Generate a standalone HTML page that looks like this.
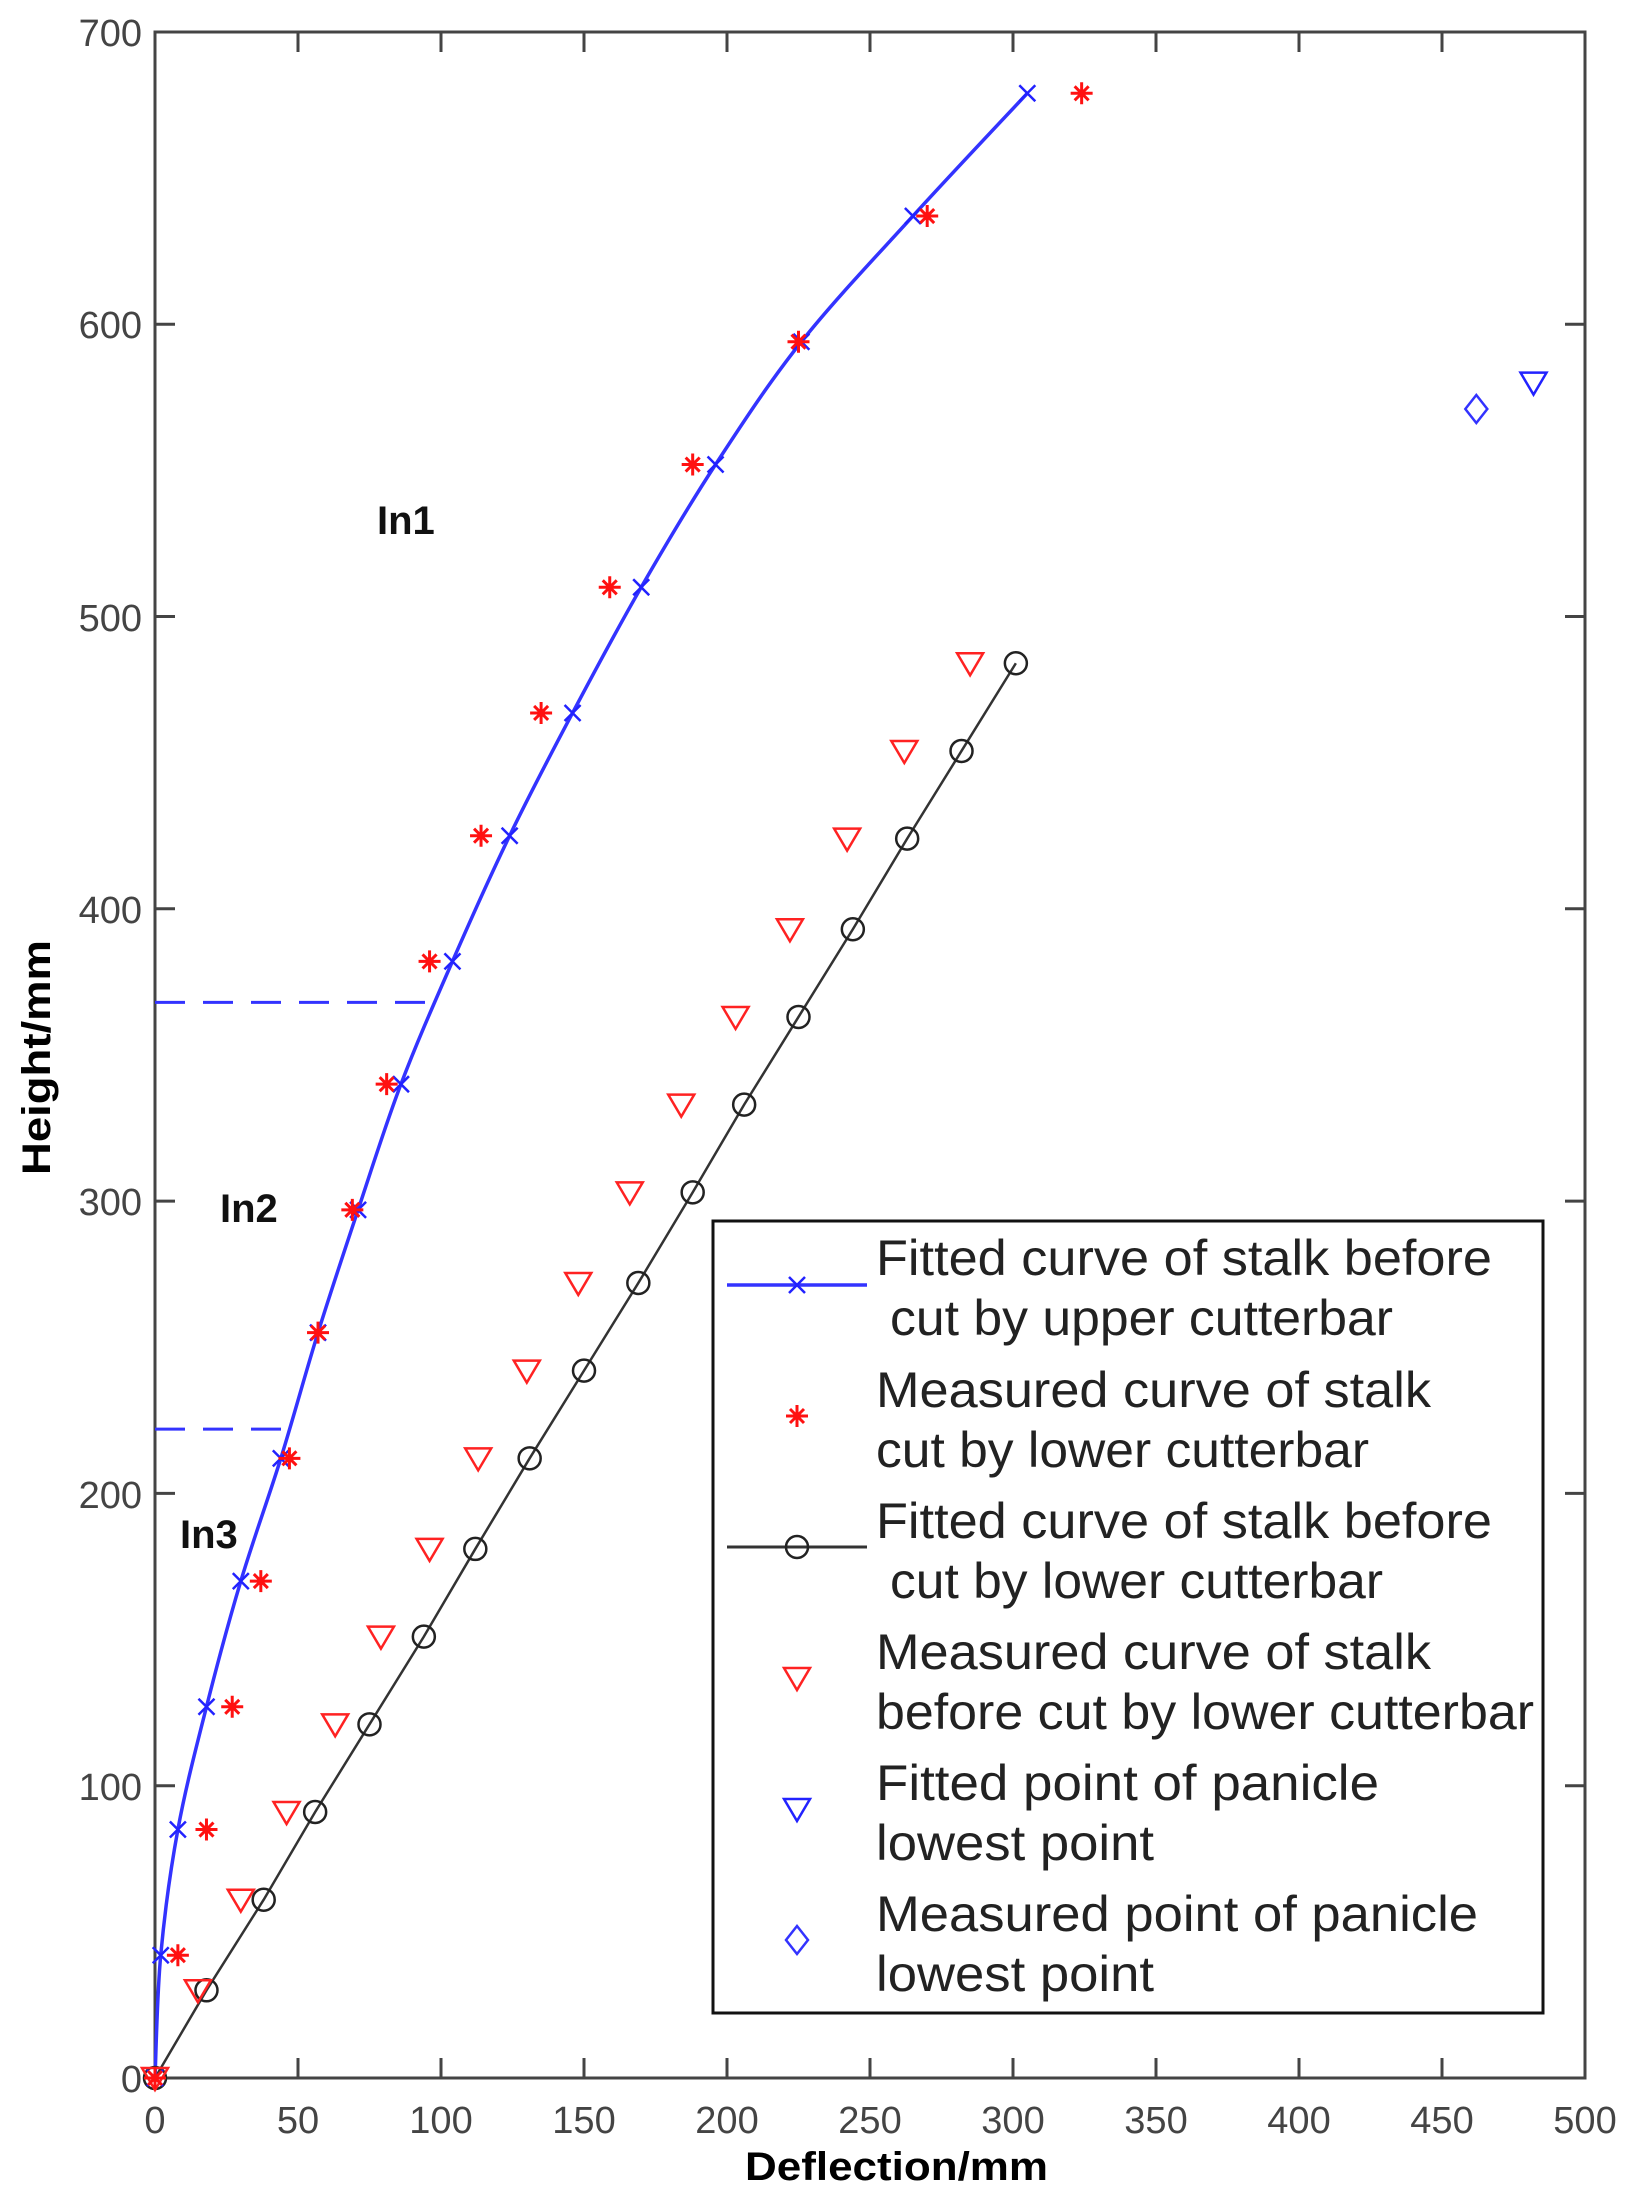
<!DOCTYPE html>
<html><head><meta charset="utf-8"><style>html,body{margin:0;padding:0;background:#fff}svg{display:block}</style></head>
<body>
<svg id="s" xmlns="http://www.w3.org/2000/svg" width="1631" height="2188" viewBox="0 0 1631 2188" font-family="Liberation Sans, Arial, sans-serif">
<rect width="1631" height="2188" fill="#fff"/>
<g id="ax" stroke="#444" stroke-width="3" fill="none"><rect x="155" y="32" width="1430" height="2046"/></g>
<g font-size="38" fill="#444" text-anchor="end">
<text x="142" y="2092">0</text><text x="142" y="1800">100</text><text x="142" y="1508">200</text><text x="142" y="1215">300</text><text x="142" y="923">400</text><text x="142" y="631">500</text><text x="142" y="338">600</text><text x="142" y="46">700</text>
</g>
<g font-size="38" fill="#444" text-anchor="middle">
<text x="155" y="2133">0</text><text x="298" y="2133">50</text><text x="441" y="2133">100</text><text x="584" y="2133">150</text><text x="727" y="2133">200</text><text x="870" y="2133">250</text><text x="1013" y="2133">300</text><text x="1156" y="2133">350</text><text x="1299" y="2133">400</text><text x="1442" y="2133">450</text><text x="1585" y="2133">500</text>
</g>
<text x="745" y="2180" font-size="40" font-weight="bold" textLength="303" lengthAdjust="spacingAndGlyphs">Deflection/mm</text>
<text transform="translate(50,1175) rotate(-90)" font-size="40" font-weight="bold" textLength="235" lengthAdjust="spacingAndGlyphs">Height/mm</text>
<g font-size="40" font-weight="bold" fill="#111">
<text x="377" y="534">In1</text><text x="220" y="1222">In2</text><text x="180" y="1548">In3</text>
</g>
<g id="plot"></g>
<rect x="713" y="1221" width="830" height="792" fill="#fff" stroke="#111" stroke-width="3"/>
<g font-size="50" fill="#222">
<text x="876" y="1275" textLength="616" lengthAdjust="spacingAndGlyphs">Fitted curve of stalk before</text>
<text x="890" y="1335" textLength="503" lengthAdjust="spacingAndGlyphs">cut by upper cutterbar</text>
<text x="876" y="1407" textLength="555" lengthAdjust="spacingAndGlyphs">Measured curve of stalk</text>
<text x="876" y="1467" textLength="493" lengthAdjust="spacingAndGlyphs">cut by lower cutterbar</text>
<text x="876" y="1538" textLength="616" lengthAdjust="spacingAndGlyphs">Fitted curve of stalk before</text>
<text x="890" y="1598" textLength="493" lengthAdjust="spacingAndGlyphs">cut by lower cutterbar</text>
<text x="876" y="1669" textLength="555" lengthAdjust="spacingAndGlyphs">Measured curve of stalk</text>
<text x="876" y="1729" textLength="658" lengthAdjust="spacingAndGlyphs">before cut by lower cutterbar</text>
<text x="876" y="1800" textLength="503" lengthAdjust="spacingAndGlyphs">Fitted point of panicle</text>
<text x="876" y="1860" textLength="278" lengthAdjust="spacingAndGlyphs">lowest point</text>
<text x="876" y="1931" textLength="602" lengthAdjust="spacingAndGlyphs">Measured point of panicle</text>
<text x="876" y="1991" textLength="278" lengthAdjust="spacingAndGlyphs">lowest point</text>
</g>
<g id="leg"></g>
</svg>
<script>
var NS="http://www.w3.org/2000/svg";
function X(d){return 155+d*2.86}function Y(h){return 2078-h*2.923}
function el(p,t,a){var e=document.createElementNS(NS,t);for(var k in a)e.setAttribute(k,a[k]);p.appendChild(e);return e}
var ax=document.getElementById('ax');
for(var i=1;i<10;i++){var x=155+i*143;el(ax,'line',{x1:x,y1:2078,x2:x,y2:2058});el(ax,'line',{x1:x,y1:32,x2:x,y2:52});}
for(var i=1;i<7;i++){var y=2078-i*292.3;el(ax,'line',{x1:155,y1:y,x2:175,y2:y});el(ax,'line',{x1:1585,y1:y,x2:1565,y2:y});}
var P=document.getElementById('plot');
var blue=[[0,0],[2,42],[8,85],[18,127],[30,170],[44,212],[57,255],[71,297],[86,340],[104,382],[124,425],[146,467],[170,510],[196,552],[226,594],[265,637],[305,679]];
var red=[[0,0],[8,42],[18,85],[27,127],[37,170],[47,212],[57,255],[69,297],[81,340],[96,382],[114,425],[135,467],[159,510],[188,552],[225,594],[270,637],[324,679]];
var blk=[[0,0],[18,30],[38,61],[56,91],[75,121],[94,151],[112,181],[131,212],[150,242],[169,272],[188,303],[206,333],[225,363],[244,393],[263,424],[282,454],[301,484]];
var tri=[[0,0],[15,30],[30,61],[46,91],[63,121],[79,151],[96,181],[113,212],[130,242],[148,272],[166,303],[184,333],[203,363],[222,393],[242,424],[262,454],[285,484]];
el(P,'line',{x1:155,y1:Y(368),x2:X(100),y2:Y(368),stroke:'#33f','stroke-width':3,'stroke-dasharray':'30,18'});
el(P,'line',{x1:155,y1:Y(222),x2:X(47),y2:Y(222),stroke:'#33f','stroke-width':3,'stroke-dasharray':'30,18'});
function pts(a){return a.map(function(p){return X(p[0])+','+Y(p[1])}).join(' ')}
el(P,'polyline',{points:pts(blk),fill:'none',stroke:'#333','stroke-width':2.5});
// smooth Catmull-Rom for blue
var bp=blue.map(function(p){return [X(p[0]),Y(p[1])]});
var d='M'+bp[0][0]+' '+bp[0][1];
for(var i=0;i<bp.length-1;i++){var p0=bp[Math.max(i-1,0)],p1=bp[i],p2=bp[i+1],p3=bp[Math.min(i+2,bp.length-1)];
d+='C'+(p1[0]+(p2[0]-p0[0])/6)+' '+(p1[1]+(p2[1]-p0[1])/6)+' '+(p2[0]-(p3[0]-p1[0])/6)+' '+(p2[1]-(p3[1]-p1[1])/6)+' '+p2[0]+' '+p2[1];}
el(P,'path',{d:d,fill:'none',stroke:'#33f','stroke-width':3.5});
function xm(g,x,y){el(g,'path',{d:'M'+(x-8)+' '+(y-8)+'L'+(x+8)+' '+(y+8)+'M'+(x-8)+' '+(y+8)+'L'+(x+8)+' '+(y-8),stroke:'#22f','stroke-width':2.5})}
function st(g,x,y){el(g,'path',{d:'M'+(x-11)+' '+y+'H'+(x+11)+'M'+x+' '+(y-11)+'V'+(y+11)+'M'+(x-7)+' '+(y-7)+'L'+(x+7)+' '+(y+7)+'M'+(x-7)+' '+(y+7)+'L'+(x+7)+' '+(y-7),stroke:'#f11','stroke-width':3});el(g,'circle',{cx:x,cy:y,r:4,fill:'#f11'})}
function ci(g,x,y){el(g,'circle',{cx:x,cy:y,r:11,fill:'none',stroke:'#222','stroke-width':2.5})}
function tr(g,x,y,c){el(g,'path',{d:'M'+(x-13)+' '+(y-10)+'H'+(x+13)+'L'+x+' '+(y+12)+'Z',fill:'none',stroke:c,'stroke-width':2.5})}
function di(g,x,y){el(g,'path',{d:'M'+x+' '+(y-14)+'L'+(x+11)+' '+y+'L'+x+' '+(y+14)+'L'+(x-11)+' '+y+'Z',fill:'none',stroke:'#33f','stroke-width':2.5})}
blk.forEach(function(p){ci(P,X(p[0]),Y(p[1]))});
tri.forEach(function(p){tr(P,X(p[0]),Y(p[1]),'#f22')});
blue.forEach(function(p){xm(P,X(p[0]),Y(p[1]))});
red.forEach(function(p){st(P,X(p[0]),Y(p[1]))});
tr(P,X(482),Y(580),'#22f');di(P,X(462),Y(571));
var L=document.getElementById('leg');
el(L,'line',{x1:727,y1:1285,x2:867,y2:1285,stroke:'#33f','stroke-width':3.5});xm(L,797,1285);
st(L,797,1416);
el(L,'line',{x1:727,y1:1547,x2:867,y2:1547,stroke:'#333','stroke-width':3});ci(L,797,1547);
tr(L,797,1678,'#f22');tr(L,797,1809,'#22f');di(L,797,1940);
</script>
</body></html>
